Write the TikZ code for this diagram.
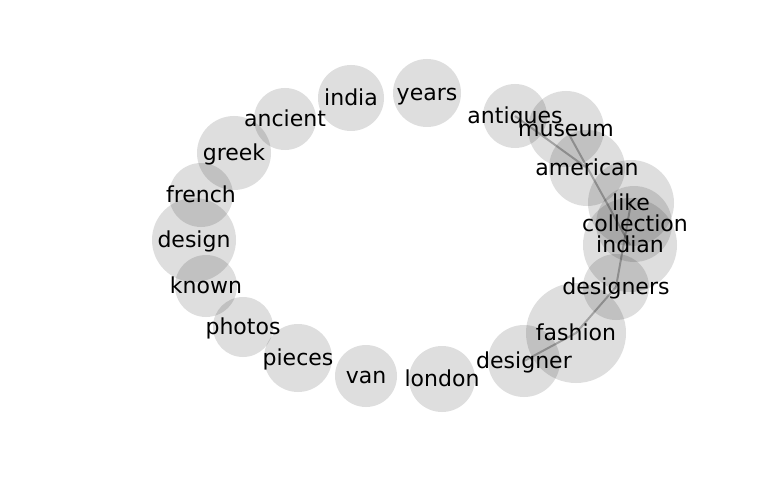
\documentclass[tikz,border=0pt]{standalone}
\usepackage{fontspec}
\setmainfont{DejaVu Sans}
\usetikzlibrary{backgrounds}

\begin{document}
\begin{tikzpicture}[x=1pt, y=-1pt,
        disc/.style={fill=black, fill opacity=0.13},
        word/.style={inner sep=0pt, text height=20pt, text depth=4.5pt, font={\fontsize{22}{26}\selectfont}},
        link/.style={draw=black, draw opacity=0.27, line width=2pt}]
        \useasboundingbox (0,0) rectangle (768,500);
        % left arc
        \fill[disc] (427,93) circle[radius=34];   \node[word] (years) at (427,93) {years};
        \fill[disc] (351,98) circle[radius=33];   \node[word] (india) at (351,98) {india};
        \fill[disc] (285,119) circle[radius=31];  \node[word] (ancient) at (285,119) {ancient};
        \fill[disc] (234,153) circle[radius=37];  \node[word] (greek) at (234,153) {greek};
        \fill[disc] (201,195) circle[radius=32];  \node[word] (french) at (201,195) {french};
        \fill[disc] (194,240) circle[radius=42];  \node[word] (design) at (194,240) {design};
        \fill[disc] (206,286) circle[radius=31];  \node[word] (known) at (206,286) {known};
        \fill[disc] (243,327) circle[radius=30];  \node[word] (photos) at (243,327) {photos};
        \fill[disc] (298,358) circle[radius=34];  \node[word] (pieces) at (298,358) {pieces};
        \fill[disc] (366,376) circle[radius=31];  \node[word] (van) at (366,376) {van};
        \fill[disc] (442,379) circle[radius=33];  \node[word] (london) at (442,379) {london};
        % right arc
        \fill[disc] (524,361) circle[radius=36];  \node[word] (designer) at (524,361) {designer};
        \fill[disc] (576,333) circle[radius=50];  \node[word] (fashion) at (576,333) {fashion};
        \fill[disc] (616,287) circle[radius=33];  \node[word] (designers) at (616,287) {designers};
        \fill[disc] (630,245) circle[radius=47];  \node[word] (indian) at (630,245) {indian};
        \fill[disc] (634,224) circle[radius=38];  \node[word] (collection) at (635,224) {collection};
        \fill[disc] (631,203) circle[radius=43];  \node[word] (like) at (631,203) {like};
        \fill[disc] (587,168) circle[radius=38];  \node[word] (american) at (587,168) {american};
        \fill[disc] (566,129) circle[radius=38];  \node[word] (museum) at (566,129) {museum};
        \fill[disc] (515,116) circle[radius=32];  \node[word] (antiques) at (515,116) {antiques};
        \begin{scope}[on background layer]
            \draw[link] (antiques.center) -- (american.center);
            \draw[link] (museum.center) -- (indian.center);
            \draw[link] (like.center) -- (designers.center);
            \draw[link] (designers.center) -- (fashion.center) -- (designer.center);
        \end{scope}
    \end{tikzpicture}
\end{document}
